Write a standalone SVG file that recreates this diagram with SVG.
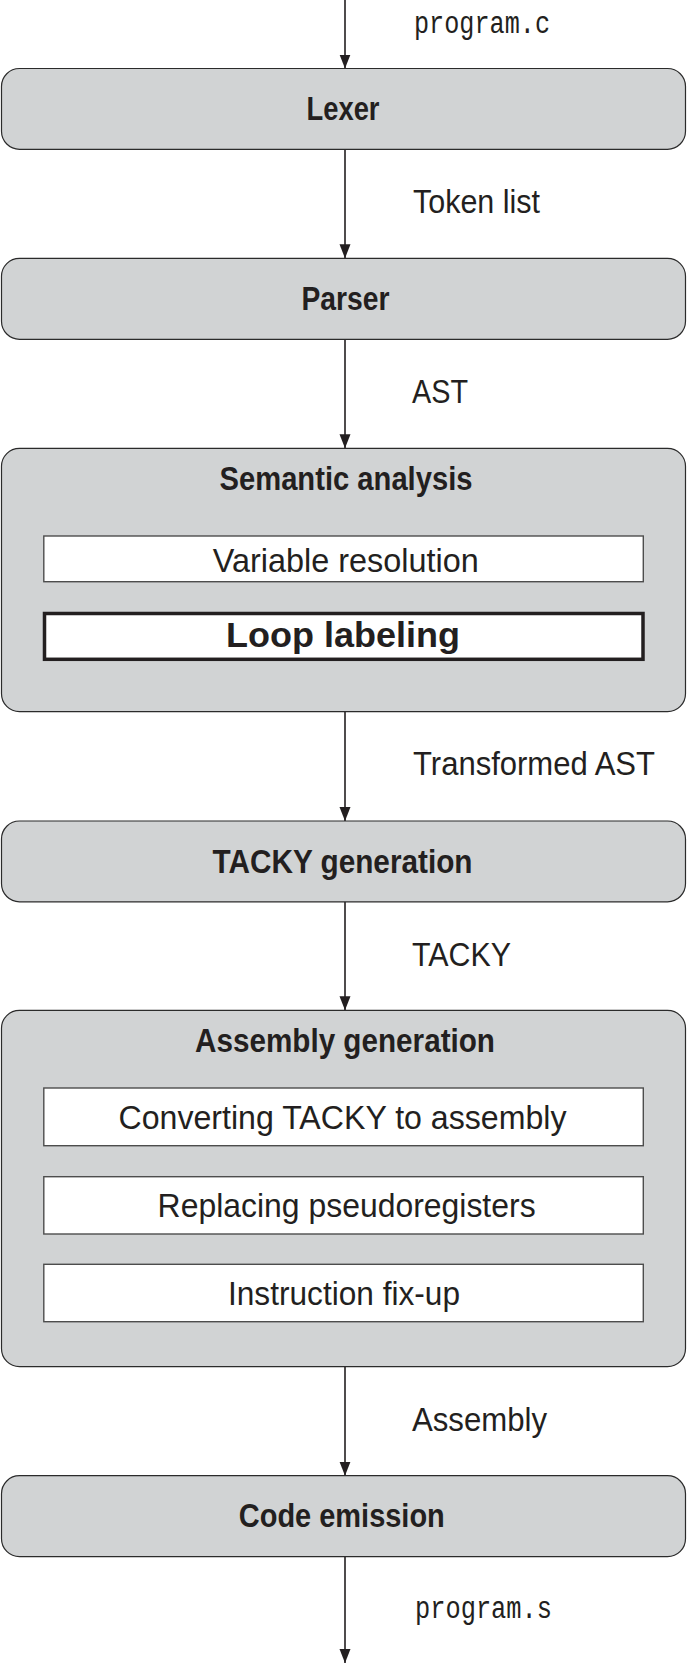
<svg xmlns="http://www.w3.org/2000/svg" width="687" height="1664" viewBox="0 0 687 1664">
<style>
.stage{fill:#d1d3d4;stroke:#2b2b2b;stroke-width:1.2}
.sub{fill:#ffffff;stroke:#4d4d4d;stroke-width:1.4}
.subb{fill:#ffffff;stroke:#231f20;stroke-width:3.5}
.t{font-family:"Liberation Sans",Arial,sans-serif;fill:#231f20;text-anchor:middle}
.b{font-weight:bold;font-size:33px}
.r{font-size:34px}
.lbl{font-family:"Liberation Sans",Arial,sans-serif;font-size:34px;fill:#231f20}
.mono{font-family:"Liberation Mono","DejaVu Sans Mono",monospace;font-size:31px;fill:#231f20}
.edge{stroke:#231f20;stroke-width:1.6;fill:none;marker-end:url(#ah)}
</style>
<defs>
<marker id="ah" markerUnits="userSpaceOnUse" markerWidth="15" markerHeight="12" refX="14" refY="5.5" orient="auto">
<path d="M0,0 L14,5.5 L0,11 z" fill="#231f20"/>
</marker>
</defs>
<rect width="687" height="1664" fill="#ffffff"/>
<g id="connectors">
<line class="edge" x1="345" y1="0" x2="345" y2="68.5"/>
<line class="edge" x1="345" y1="149.3" x2="345" y2="258.3"/>
<line class="edge" x1="345" y1="339.3" x2="345" y2="448.3"/>
<line class="edge" x1="345" y1="711.7" x2="345" y2="821"/>
<line class="edge" x1="345" y1="901.8" x2="345" y2="1010.3"/>
<line class="edge" x1="345" y1="1366.7" x2="345" y2="1475.7"/>
<line class="edge" x1="345" y1="1556.7" x2="345" y2="1663"/>
<text class="mono" x="414" y="33" textLength="136" lengthAdjust="spacingAndGlyphs">program.c</text>
<text class="lbl" x="413" y="213" textLength="127" lengthAdjust="spacingAndGlyphs">Token list</text>
<text class="lbl" x="412" y="403" textLength="56" lengthAdjust="spacingAndGlyphs">AST</text>
<text class="lbl" x="413" y="775" textLength="242" lengthAdjust="spacingAndGlyphs">Transformed AST</text>
<text class="lbl" x="412" y="966" textLength="99" lengthAdjust="spacingAndGlyphs">TACKY</text>
<text class="lbl" x="412" y="1430.7" textLength="135" lengthAdjust="spacingAndGlyphs">Assembly</text>
<text class="mono" x="415" y="1618.3" textLength="137" lengthAdjust="spacingAndGlyphs">program.s</text>
</g>
<g id="lexer">
<rect class="stage" x="1.5" y="68.5" width="684" height="80.8" rx="18" ry="18"/>
<text class="t b" x="343" y="120" textLength="73" lengthAdjust="spacingAndGlyphs">Lexer</text>
</g>
<g id="parser">
<rect class="stage" x="1.5" y="258.3" width="684" height="81" rx="18" ry="18"/>
<text class="t b" x="345.5" y="310" textLength="88" lengthAdjust="spacingAndGlyphs">Parser</text>
</g>
<g id="semantic-analysis">
<rect class="stage" x="1.5" y="448.3" width="684" height="263.4" rx="18" ry="18"/>
<text class="t b" x="346" y="490" textLength="253" lengthAdjust="spacingAndGlyphs">Semantic analysis</text>
<g id="variable-resolution">
<rect class="sub" x="43.8" y="536" width="599.5" height="45.7"/>
<text class="t r" x="345.8" y="571.7" textLength="266" lengthAdjust="spacingAndGlyphs">Variable resolution</text>
</g>
<g id="loop-labeling">
<rect class="subb" x="44.5" y="613.5" width="598.5" height="45.8"/>
<text class="t" x="343" y="646.7" style="font-weight:bold;font-size:35px" textLength="234" lengthAdjust="spacingAndGlyphs">Loop labeling</text>
</g>
</g>
<g id="tacky-generation">
<rect class="stage" x="1.5" y="821" width="684" height="80.8" rx="18" ry="18"/>
<text class="t b" x="342.5" y="872.5" textLength="260" lengthAdjust="spacingAndGlyphs">TACKY generation</text>
</g>
<g id="assembly-generation">
<rect class="stage" x="1.5" y="1010.3" width="684" height="356.4" rx="18" ry="18"/>
<text class="t b" x="345" y="1052" textLength="300" lengthAdjust="spacingAndGlyphs">Assembly generation</text>
<g id="converting">
<rect class="sub" x="43.8" y="1088" width="599.5" height="57.7"/>
<text class="t r" x="342.5" y="1129" textLength="448" lengthAdjust="spacingAndGlyphs">Converting TACKY to assembly</text>
</g>
<g id="replacing">
<rect class="sub" x="43.8" y="1176.7" width="599.5" height="57.3"/>
<text class="t r" x="346.6" y="1217" textLength="378" lengthAdjust="spacingAndGlyphs">Replacing pseudoregisters</text>
</g>
<g id="fixup">
<rect class="sub" x="43.8" y="1264.3" width="599.5" height="57.4"/>
<text class="t r" x="344" y="1305" textLength="232" lengthAdjust="spacingAndGlyphs">Instruction fix-up</text>
</g>
</g>
<g id="code-emission">
<rect class="stage" x="1.5" y="1475.7" width="684" height="81" rx="18" ry="18"/>
<text class="t b" x="341.8" y="1527" textLength="206" lengthAdjust="spacingAndGlyphs">Code emission</text>
</g>
</svg>
